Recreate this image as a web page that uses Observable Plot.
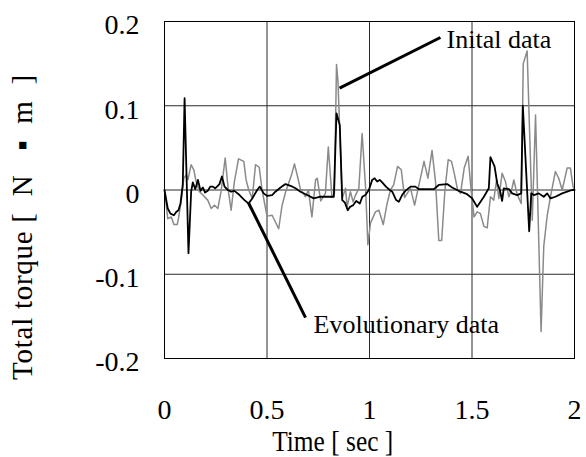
<!DOCTYPE html>
<html>
<head>
<meta charset="utf-8">
<script src="https://cdn.jsdelivr.net/npm/d3@7"></script>
<script src="https://cdn.jsdelivr.net/npm/@observablehq/plot@0.6"></script>
<style>
  html, body { margin: 0; padding: 0; background: #fff; }
  #chart { width: 586px; height: 457px; }
  #chart svg text { font-family: 'Liberation Serif', 'Times New Roman', serif !important; font-variant: normal !important; }
</style>
</head>
<body>
<div id="chart"></div>
<script>
// ---- Data ----
const evoTime = [0,0.016,0.029,0.046,0.057,0.068,0.078,0.089,0.098,0.117,0.130,0.138,0.150,0.163,0.176,0.187,0.198,0.211,0.223,0.236,0.247,0.260,0.268,0.280,0.293,0.309,0.325,0.341,0.366,0.390,0.410,0.428,0.452,0.465,0.484,0.501,0.525,0.541,0.566,0.590,0.615,0.639,0.663,0.696,0.728,0.761,0.793,0.826,0.839,0.855,0.867,0.880,0.894,0.905,0.920,0.935,0.953,0.965,0.980,0.997,1.013,1.025,1.037,1.050,1.062,1.080,1.099,1.111,1.130,1.143,1.159,1.175,1.200,1.224,1.241,1.314,1.338,1.379,1.403,1.444,1.476,1.501,1.525,1.558,1.582,1.590,1.610,1.623,1.636,1.647,1.655,1.680,1.696,1.720,1.740,1.748,1.779,1.789,1.802,1.826,1.850,1.867,1.883,1.907,1.940,1.964,1.988,2.0];
const evoTorque = [0,-0.022,-0.028,-0.030,-0.026,-0.024,-0.016,0.006,0.109,-0.075,-0.002,0.009,0.001,0.012,-0.001,0.003,-0.003,-0.001,0.004,0.004,0.002,0.005,0.007,0.016,0.004,0,-0.002,-0.001,-0.006,-0.012,-0.016,-0.010,0,0.004,-0.004,-0.007,-0.006,-0.002,0.003,0.007,0.005,0.002,-0.002,-0.006,-0.010,-0.008,-0.008,-0.008,0.091,0.077,-0.012,-0.015,-0.024,-0.020,-0.018,-0.013,-0.016,-0.008,-0.006,0,0.012,0.014,0.010,0.012,0.009,0.004,0,-0.002,-0.012,-0.014,-0.006,-0.001,0.004,0.004,0.001,0.001,0.006,0.007,0.003,-0.002,-0.005,-0.010,-0.020,-0.008,0.002,0.039,0.028,0.008,0,-0.013,0.002,0.001,-0.004,-0.006,-0.004,0.100,-0.049,-0.004,-0.006,-0.004,-0.008,-0.004,-0.010,-0.008,-0.004,-0.002,0,0];

const initTime = [0,0.016,0.033,0.046,0.062,0.068,0.081,0.094,0.106,0.114,0.130,0.143,0.154,0.171,0.187,0.211,0.228,0.244,0.260,0.276,0.296,0.312,0.325,0.341,0.361,0.387,0.398,0.411,0.428,0.444,0.462,0.476,0.500,0.525,0.557,0.573,0.590,0.611,0.622,0.634,0.649,0.663,0.688,0.702,0.719,0.737,0.745,0.762,0.785,0.799,0.817,0.829,0.839,0.846,0.867,0.883,0.891,0.907,0.920,0.932,0.948,0.964,0.981,0.992,1.005,1.029,1.046,1.067,1.086,1.102,1.118,1.137,1.155,1.171,1.184,1.200,1.220,1.266,1.285,1.305,1.322,1.338,1.352,1.368,1.384,1.400,1.415,1.430,1.444,1.462,1.481,1.495,1.510,1.525,1.541,1.558,1.574,1.590,1.606,1.620,1.631,1.647,1.663,1.680,1.696,1.704,1.720,1.740,1.750,1.769,1.794,1.810,1.837,1.850,1.867,1.883,1.907,1.923,1.940,1.964,1.980,1.993,2.0];
const initTorque = [0,-0.034,-0.032,-0.041,-0.041,-0.034,-0.014,0.014,0.018,0.012,0.030,0.024,0.010,-0.002,-0.006,-0.012,-0.022,-0.018,-0.022,-0.002,0.038,-0.002,-0.024,0.010,0.037,0.034,0.012,0,-0.010,0.030,0.027,0,-0.031,-0.030,-0.046,-0.019,-0.003,0.012,0.020,0.031,0.016,0.001,-0.008,0,-0.032,0.012,0.014,-0.013,-0.004,0.051,-0.009,-0.004,0.149,0.130,-0.010,0.002,-0.020,-0.002,-0.014,-0.006,0.002,0.067,0.002,-0.065,-0.039,-0.026,-0.024,-0.041,-0.016,0,0.006,0.028,0.024,-0.009,-0.004,0.002,-0.018,0.034,0.014,0.047,0.010,-0.060,-0.060,0,0.036,0.034,0.018,0,-0.004,0.026,0.040,0.002,-0.032,-0.026,-0.028,-0.043,-0.045,-0.008,-0.012,0.012,-0.010,0.020,0.010,-0.008,0.003,0.012,-0.005,-0.016,0.150,0.165,-0.036,0.089,-0.168,-0.067,-0.030,-0.008,0.022,0.014,0,0.026,0.026,0.004,0];

const xTickValues = [0, 0.5, 1, 1.5, 2];
const xTickLabels = ["0", "0.5", "1", "1.5", "2"];
const yTickValues = [-0.2, -0.1, 0, 0.1, 0.2];
const yTickLabels = ["-0.2", "-0.1", "0", "0.1", "0.2"];

const xTitle = "Time [ sec ]";
const yTitle = "Total torque\u00A0[\u00A0\u00A0N\u00A0\u00A0\u00A0\u25AA\u00A0\u00A0m\u00A0\u00A0]";
const annoLabels = ["Inital data", "Evolutionary data"];
// annotation leader lines (data units): start on curve, end near label
const annoX1 = [0.854, 0.410];
const annoY1 = [0.121, -0.0154];
const annoX2 = [1.346, 0.688];
const annoY2 = [0.181, -0.1515];
// annotation label anchors (data units)
const annoTextX = [1.376, 0.727];
const annoTextY = [0.178, -0.160];

// ---- Build tables ----
const evo = evoTime.map((t, i) => ({t, v: evoTorque[i]}));
const init = initTime.map((t, i) => ({t, v: initTorque[i]}));
const annos = annoLabels.map((label, i) => ({
  label, x1: annoX1[i], y1: annoY1[i], x2: annoX2[i], y2: annoY2[i],
  tx: annoTextX[i], ty: annoTextY[i]
}));

const serif = "'Liberation Serif', 'Times New Roman', serif";

const chart = Plot.plot({
  width: 586,
  height: 457,
  marginLeft: 164,
  marginRight: 12,
  marginTop: 21,
  marginBottom: 99,
  style: {fontFamily: serif, fontSize: "28px", background: "#fff", color: "#000", overflow: "visible"},
  x: {domain: [0, 2]},
  y: {domain: [-0.2, 0.2]},
  marks: [
    Plot.gridX(xTickValues.slice(1, -1), {stroke: "#2a2a2a", strokeOpacity: 1, strokeWidth: 1}),
    Plot.gridY(yTickValues.slice(1, -1), {stroke: "#2a2a2a", strokeOpacity: 1, strokeWidth: 1}),
    Plot.line(init, {x: "t", y: "v", stroke: "#8a8a8a", strokeWidth: 1.5}),
    Plot.line(evo, {x: "t", y: "v", stroke: "#000", strokeWidth: 1.8}),
    Plot.frame({stroke: "#000", strokeWidth: 1}),
    Plot.axisX(xTickValues, {
      tickSize: 0, tickPadding: 41, label: null, fontSize: 28, fontFamily: serif, fill: "#000",
      tickFormat: d => xTickLabels[xTickValues.indexOf(d)]
    }),
    Plot.axisY(yTickValues, {
      tickSize: 0, tickPadding: 25, label: null, fontSize: 28, fontFamily: serif, fill: "#000", dy: 4,
      tickFormat: d => yTickLabels[yTickValues.indexOf(d)]
    }),
    Plot.link(annos, {x1: "x1", y1: "y1", x2: "x2", y2: "y2", stroke: "#000", strokeWidth: 3}),
    Plot.text(annos, {x: "tx", y: "ty", text: "label", textAnchor: "start", fontSize: 26, fontFamily: serif, fill: "#000"}),
    Plot.text([xTitle], {x: 0.8205, y: -0.2987, text: d => d, fontSize: 29, fontFamily: serif, fill: "#000"}),
    Plot.text([yTitle], {x: -0.693, y: -0.0444, text: d => d, rotate: -90, fontSize: 29, fontFamily: serif, fill: "#000"})
  ]
});

const svg = d3.select(chart);
// force the serif face on every text (axis ticks included)
svg.attr("font-family", serif);
svg.selectAll("g").attr("font-family", serif).attr("font-variant", null);
svg.selectAll("text").style("font-family", serif).style("font-variant", "normal");

// fit the axis titles to the lengths seen in the reference
svg.selectAll("text")
  .filter(function() { return this.textContent === xTitle; })
  .attr("textLength", 121).attr("lengthAdjust", "spacingAndGlyphs");
svg.selectAll("text")
  .filter(function() { return this.textContent === yTitle; })
  .attr("textLength", 305).attr("lengthAdjust", "spacing");

document.getElementById("chart").appendChild(chart);
</script>
</body>
</html>
